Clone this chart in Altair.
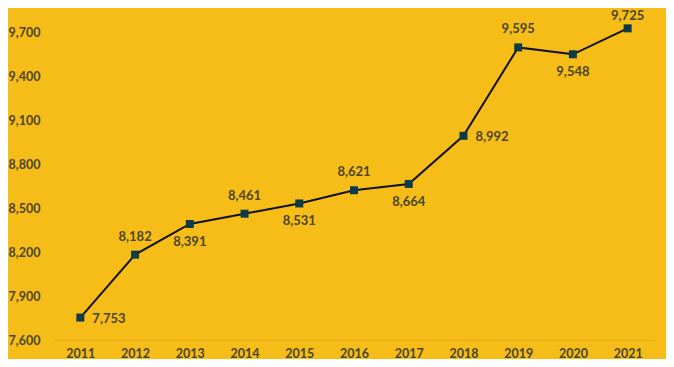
import altair as alt
import pandas as pd

years = ["2011", "2012", "2013", "2014", "2015", "2016", "2017", "2018", "2019", "2020", "2021"]
values = [7753, 8182, 8391, 8461, 8531, 8621, 8664, 8992, 9595, 9548, 9725]
placement = ["right", "above", "below", "above", "below", "above", "below", "right", "above", "below", "top"]
y_ticks = [7600, 7900, 8200, 8500, 8800, 9100, 9400, 9700]

df = pd.DataFrame({"year": years, "value": values, "place": placement})

BG = "#F6BD19"
TXT = "#4B4526"
FONT = "Lato"

x_enc = alt.X("year:O", scale=alt.Scale(type="point", padding=0.5),
              axis=alt.Axis(title=None, labelAngle=0, ticks=False, domain=True,
                            domainColor="#E9AF17", domainWidth=1.5,
                            labelPadding=7, labelFontSize=12.5, labelFont=FONT,
                            labelFontWeight="bold", labelColor=TXT, grid=False))
y_enc = alt.Y("value:Q", scale=alt.Scale(domain=[7600, 9700], nice=False, zero=False),
              axis=alt.Axis(title=None, values=y_ticks, labelExpr="format(datum.value, ',')",
                            ticks=False, domain=False,
                            grid=False, labelPadding=13, labelFontSize=12.5, labelFont=FONT,
                            labelFontWeight="bold", labelColor=TXT))

base = alt.Chart(df).encode(x=x_enc, y=y_enc)

line = base.mark_line(color="#111111", strokeWidth=2, clip=False)
pts = base.mark_square(size=64, color="#0F3B47", opacity=1, clip=False)

def lbl(place, **kw):
    return base.transform_filter(alt.datum.place == place).mark_text(
        font=FONT, fontSize=13, fontWeight="bold", color=TXT, clip=False, **kw
    ).encode(text=alt.Text("value:Q", format=","))

right = lbl("right", align="left", baseline="middle", dx=12, dy=1)
above = lbl("above", align="center", baseline="middle", dy=-18)
top = lbl("top", align="center", baseline="middle", dy=-12)
below = lbl("below", align="center", baseline="middle", dy=18)

chart = alt.layer(line, pts, right, above, top, below).properties(
    width=602, height=308,
    background=BG,
    padding={"left": 45, "top": 24, "right": 11, "bottom": 19},
    autosize=alt.AutoSizeParams(type="none"),
).configure_view(stroke=None)

chart.save("out.html", embed_options={"renderer": "svg", "actions": False})
